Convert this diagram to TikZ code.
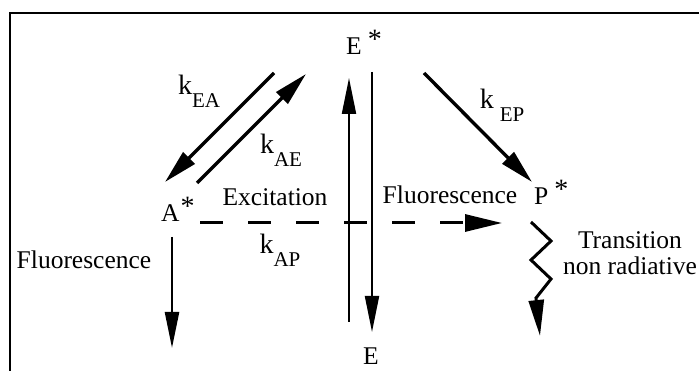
\documentclass[tikz,border=0pt]{standalone}
\usepackage{fontspec}
\setmainfont{Liberation Serif}
\usetikzlibrary{arrows.meta}
\newcommand\starup[1]{\raisebox{#1}{\fontsize{28}{28}\selectfont *}}
\newcommand\kk{{\fontsize{28}{28}\selectfont k}}
\newcommand\subsc[1]{\raisebox{-13pt}{\fontsize{21}{21}\selectfont #1}}
\begin{document}
\begin{tikzpicture}[x=1pt,y=-1pt,
  lbl/.style={inner sep=0pt, font=\fontsize{25.5}{28}\selectfont},
  arr/.style={-{Triangle[length=34pt,width=16pt]}, line width=3.4pt},
  varr/.style={-{Triangle[length=36pt,width=14pt]}, line width=2pt},
  frame/.style={line width=2pt},
]
\useasboundingbox (0,0) rectangle (699,371);
\coordinate (fbl) at (10,371);
\coordinate (ftl) at (10,13);
\coordinate (ftr) at (699,13);
\draw[frame] (fbl) -- (ftl) -- (ftr);

% state labels
\node[lbl, anchor=base west] (Es) at (346,55) {E\hspace{6pt}\starup{6pt}};
\node[lbl, anchor=base west] (As) at (161,222) {A\hspace{1pt}\starup{6pt}};
\node[lbl, anchor=base west] (Ps) at (534,205) {P\hspace{6pt}\starup{6pt}};
\node[lbl] (E) at (371,356) {E};

% rate labels
\node[lbl] (kEA) at (199,91) {\kk\subsc{EA}};
\node[lbl] (kAE) at (281,150) {\kk\subsc{AE}};
\node[lbl] (kEP) at (502,105) {\kk\hspace{6pt}\subsc{EP}};
\node[lbl] (kAP) at (280,250) {\kk\subsc{AP}};

% other texts
\node[lbl] (exc) at (275,197) {Excitation};
\node[lbl] (flL) at (84,260) {Fluorescence};
\node[lbl] (flM) at (450,195) {Fluorescence};
\node[lbl, align=center] (trans) at (630,253) {Transition\\[-2pt]non radiative};

% arrow end points
\coordinate (ea1) at (274,73);  \coordinate (ea2) at (165,182);
\coordinate (ae1) at (197,183); \coordinate (ae2) at (306,74);
\coordinate (ep1) at (424,73);  \coordinate (ep2) at (532,182);
\coordinate (up1) at (349,322); \coordinate (up2) at (349,78);
\coordinate (dn1) at (372,72);  \coordinate (dn2) at (372,332);
\coordinate (ad1) at (172,237); \coordinate (ad2) at (172,348);
\coordinate (ap1) at (200,223); \coordinate (ap2) at (502,223);
\coordinate (w0) at (531,222);  \coordinate (w5) at (540,336);

\draw[arr] (ea1) -- (ea2);
\draw[arr] (ae1) -- (ae2);
\draw[arr] (ep1) -- (ep2);
\draw[varr] (up1) -- (up2);
\draw[varr] (dn1) -- (dn2);
\draw[varr, line width=2.4pt] (ad1) -- (ad2);
\draw[-{Triangle[length=37pt,width=17pt]}, line width=3pt, dash pattern=on 23pt off 25pt] (ap1) -- (ap2);
\draw[-{Triangle[length=36pt,width=15pt]}, line width=3pt, line join=miter]
  (w0) -- ++(20,19) -- ++(-20,19) -- ++(20,19) -- ++(-15,19) -- (w5);
\end{tikzpicture}
\end{document}
